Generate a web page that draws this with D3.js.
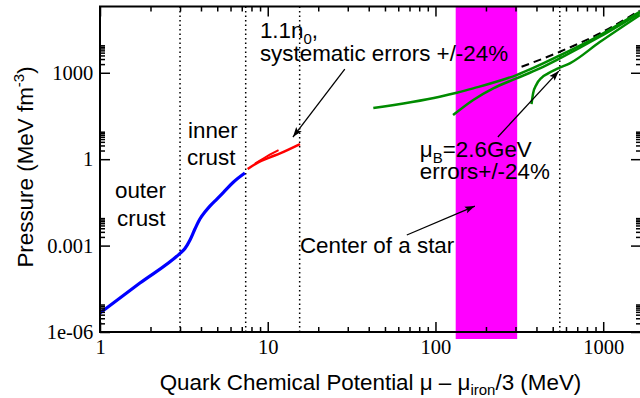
<!DOCTYPE html>
<html>
<head>
<meta charset="utf-8">
<script src="https://cdn.jsdelivr.net/npm/d3@7"></script>
<style>
body { margin: 0; background: #fff; }
svg { display: block; }
.tick text { font-family: "Liberation Serif", "Times New Roman", serif; font-size: 20.5px; fill: #000; }
.tick line { stroke: #000; stroke-width: 1.5; }
.lbl { font-family: "Liberation Sans", Arial, sans-serif; font-size: 22.4px; fill: #000; }
</style>
</head>
<body>
<svg id="chart" width="640" height="398"></svg>
<script>
// pressure vs quark chemical potential, [mu (MeV), P (MeV fm^-3)]
const crust = [[1, 4.57e-6], [1.73, 5.0e-5], [3.0, 5.4e-4], [3.21, 7.9e-4], [3.44, 1.56e-3],
  [3.68, 3.76e-3], [3.94, 8.4e-3], [4.22, 0.0146], [4.52, 0.0235], [4.96, 0.0406],
  [5.43, 0.0695], [6.23, 0.158], [7.31, 0.33]]
const nuclear = [[7.59, 0.455], [8.78, 0.776], [10.31, 1.16], [11.84, 1.6], [15.57, 3.36]]
const nuclearErr = [[8.4, 0.7], [10.0, 1.3], [11.6, 2.05]]
const quarkA = [[42.6, 59.6], [106, 147], [134, 202], [168, 288], [304, 834], [551, 4000],
  [954, 20000], [1652, 130000]]
const quarkB = [[127.3, 34], [168, 114], [221, 288], [304, 640], [419, 1422], [551, 3160],
  [954, 17800], [1652, 118000]]
const quarkC = [[373.8, 82], [382.1, 193], [400.5, 396], [428.9, 671], [469.5, 953],
  [538.5, 1422], [632.4, 2123], [954, 11650], [1652, 100000]]
const freeQuark = [[326, 1620], [551, 5360], [954, 23300], [1652, 145000]]

const starBand = [132, 307]
const regionEdges = [3.0, 7.39, 15.5, 551]

const xTicks = [1, 10, 100, 1000]
const yTicks = [1e-6, 1e-3, 1, 1e3]
const yTickLabels = ["1e-06", "0.001", "1", "1000"]

// annotations in data coordinates
const notes = [
  {x: 1.228, y: 0.0448, parts: [["outer"]]},
  {x: 1.263, y: 4.77e-3, parts: [["crust"]]},
  {x: 3.345, y: 5.42, parts: [["inner"]]},
  {x: 3.30, y: 0.627, parts: [["crust"]]},
  {x: 8.98, y: 16000, parts: [["1.1n"], ["0", "sub"], [","]]},
  {x: 8.98, y: 2550, parts: [["systematic errors +/-24%"]]},
  {x: 80.7, y: 1.19, parts: [["\u03bc"], ["B", "sub"], ["=2.6GeV"]]},
  {x: 80.7, y: 0.205, parts: [["errors+/-24%"]]},
  {x: 15.56, y: 5.52e-4, parts: [["Center of a star"]]}
]
const arrows = [
  [[28.8, 1345], [14.13, 5.87]],
  [[235.5, 5.87], [543.7, 1146]],
  [[67.5, 2.33e-3], [171.7, 0.0236]]
]

const svg = d3.select("#chart")
const x = d3.scaleLog().domain([1, 1680]).range([100, 641])
const y = d3.scaleLog().domain([1e-6, 2e5]).range([332, 6.5])

svg.append("defs").append("marker")
  .attr("id", "head").attr("markerUnits", "userSpaceOnUse")
  .attr("viewBox", "0 -5 10 10").attr("refX", 10).attr("refY", 0)
  .attr("markerWidth", 10).attr("markerHeight", 10).attr("orient", "auto")
  .append("path").attr("d", "M0,-3.5L10,0L0,3.5L2,0Z").attr("fill", "#000")

// center of a star
svg.append("rect")
  .attr("x", x(starBand[0])).attr("width", x(starBand[1]) - x(starBand[0]))
  .attr("y", y(2e5)).attr("height", y(5.7e-7) - y(2e5))
  .attr("fill", "#ff00ff")

svg.selectAll(".edge").data(regionEdges).join("line")
  .attr("x1", d => x(d)).attr("x2", d => x(d))
  .attr("y1", y(2e5)).attr("y2", y(1e-6))
  .attr("stroke", "#000").attr("stroke-width", 1.5).attr("stroke-dasharray", "1.5,3")

const line = d3.line().x(d => x(d[0])).y(d => y(d[1])).curve(d3.curveMonotoneX)

function curve(data, color, width, dash) {
  svg.append("path").datum(data).attr("d", line)
    .attr("fill", "none").attr("stroke", color).attr("stroke-width", width)
    .attr("stroke-dasharray", dash || null)
}
curve(crust, "#0000ff", 3.2)
curve(nuclear, "#ff0000", 2.5)
curve(nuclearErr, "#ff0000", 2)
curve(freeQuark, "#000", 2, "8,5")
curve(quarkA, "#008b00", 2.5)
curve(quarkB, "#008b00", 2.5)
curve(quarkC, "#008b00", 2.5)

// axes
const xMinor = [], yMinor = []
xTicks.forEach(d => d3.range(2, 10).forEach(k => { if (d * k <= 1680) xMinor.push(d * k) }))
yTicks.forEach(d => d3.range(2, 10).forEach(k => yMinor.push(d * k)))

function axis(gen, tr, values, size, fmt, pad) {
  const g = svg.append("g").attr("transform", tr)
    .call(gen.tickValues(values).tickSize(size).tickSizeOuter(0).tickPadding(pad || 0).tickFormat(fmt))
  g.select(".domain").remove()
  return g
}
axis(d3.axisBottom(x), "translate(0,332)", xTicks, -10, d3.format("d"), 7)
axis(d3.axisBottom(x), "translate(0,332)", xMinor, -5, () => "")
axis(d3.axisTop(x), "translate(0,6.5)", xTicks, -10, () => "")
axis(d3.axisTop(x), "translate(0,6.5)", xMinor, -5, () => "")
axis(d3.axisLeft(y), "translate(100,0)", yTicks, -10, (d, i) => yTickLabels[i], 6.7)
axis(d3.axisLeft(y), "translate(100,0)", yMinor, -5, () => "")
axis(d3.axisRight(y), "translate(641,0)", yTicks, -10, () => "")
axis(d3.axisRight(y), "translate(641,0)", yMinor, -5, () => "")

svg.append("rect").attr("x", 100).attr("y", 6.5).attr("width", 541).attr("height", 325.5)
  .attr("fill", "none").attr("stroke", "#000").attr("stroke-width", 2)

// titles
const xt = svg.append("text").attr("class", "lbl").attr("x", 370.5).attr("y", 390)
  .attr("text-anchor", "middle")
xt.append("tspan").text("Quark Chemical Potential \u03bc \u2013 \u03bc")
xt.append("tspan").attr("dy", 5).attr("font-size", 15).text("iron")
xt.append("tspan").attr("dy", -5).text("/3 (MeV)")

const yt = svg.append("text").attr("class", "lbl")
  .attr("transform", "translate(33,167) rotate(-90)").attr("text-anchor", "middle")
yt.append("tspan").text("Pressure (MeV fm")
yt.append("tspan").attr("dy", -9).attr("font-size", 15).text("-3")
yt.append("tspan").attr("dy", 9).text(")")

// annotations
notes.forEach(n => {
  const t = svg.append("text").attr("class", "lbl").attr("x", x(n.x)).attr("y", y(n.y))
  let shift = 0
  n.parts.forEach(p => {
    const s = t.append("tspan").text(p[0])
    const want = p[1] === "sub" ? 6 : 0
    s.attr("dy", want - shift)
    if (p[1] === "sub") s.attr("font-size", 15)
    shift = want
  })
})

svg.selectAll(".arrow").data(arrows).join("line")
  .attr("x1", d => x(d[0][0])).attr("y1", d => y(d[0][1]))
  .attr("x2", d => x(d[1][0])).attr("y2", d => y(d[1][1]))
  .attr("stroke", "#000").attr("stroke-width", 1.3).attr("marker-end", "url(#head)")
</script>
</body>
</html>
